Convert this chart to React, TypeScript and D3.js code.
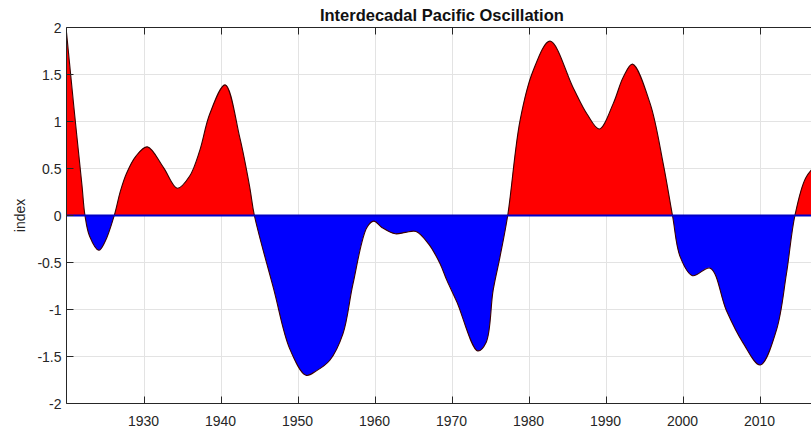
import React, { useEffect, useRef } from 'react';
import * as d3 from 'd3';

// smoothed IPO index
const years = [
  1920, 1921, 1922, 1922.4, 1923, 1924.2, 1925, 1926.2, 1927, 1927.8, 1929, 1930.5,
  1932.6, 1934.4, 1936, 1937.3, 1938.6, 1940.6, 1942.5, 1943.8, 1944.4, 1946.9,
  1949, 1951.1, 1952.5, 1954.2, 1955.9, 1957.2, 1959, 1959.9, 1961, 1962.7,
  1964, 1965.4, 1967, 1968.5, 1969.4, 1970.7, 1973.4, 1974.5, 1975.4, 1976.3, 1977.3,
  1978.9, 1980.6, 1982.8, 1985.8, 1987.6, 1989.2, 1991, 1992.3, 1993.5,
  1995.8, 1997.5, 1998.7, 1999.7, 2001.3, 2003.6, 2005.7, 2007.9, 2010.1, 2012.2,
  2013.5, 2014.6, 2016, 2017.5,
];
const ipo = [
  1.95, 1.12, 0.33, 0, -0.22, -0.37, -0.28, 0, 0.26, 0.45, 0.63, 0.73,
  0.51, 0.29, 0.42, 0.69, 1.08, 1.39, 0.83, 0.3, 0, -0.78,
  -1.42, -1.7, -1.65, -1.54, -1.26, -0.73, -0.13, -0.06, -0.13, -0.195,
  -0.18, -0.17, -0.3, -0.51, -0.69, -0.92, -1.44, -1.35, -0.8, -0.44, 0,
  1.01, 1.54, 1.855, 1.36, 1.08, 0.92, 1.19, 1.47, 1.61,
  1.19, 0.55, 0, -0.44, -0.64, -0.56, -1.01, -1.36, -1.59, -1.22,
  -0.62, 0, 0.4, 0.55,
];
const xTicks = [1930, 1940, 1950, 1960, 1970, 1980, 1990, 2000, 2010];
const yTicks = [-2, -1.5, -1, -0.5, 0, 0.5, 1, 1.5, 2];

const App: React.FC = () => {
  const svgRef = useRef<SVGSVGElement>(null);

  useEffect(() => {
    if (!svgRef.current) return;
    const svg = d3.select(svgRef.current);
    svg.selectAll('*').remove();

    const left = 66.5, top = 27.5, bottom = 403.5;
    const x = d3.scaleLinear().domain([1920, 2017.5]).range([left, left + 97.5 * 7.7]);
    const y = d3.scaleLinear().domain([-2, 2]).range([bottom, top]);
    const right = x(2017.5);
    const axisCol = '#262626';
    const font = 'Liberation Sans, Arial, sans-serif';

    const data = years.map((yr, i) => [yr, ipo[i]] as [number, number]);

    // grid
    const grid = svg.append('g').attr('stroke', '#e3e3e3').attr('stroke-width', 1);
    xTicks.forEach(t => grid.append('line').attr('x1', Math.round(x(t)) + 0.5).attr('x2', Math.round(x(t)) + 0.5).attr('y1', top).attr('y2', bottom));
    yTicks.forEach(t => grid.append('line').attr('x1', left).attr('x2', right).attr('y1', y(t)).attr('y2', y(t)));

    const defs = svg.append('defs');
    defs.append('clipPath').attr('id', 'pos').append('rect')
      .attr('x', left).attr('y', top).attr('width', right - left).attr('height', y(0) - top);
    defs.append('clipPath').attr('id', 'neg').append('rect')
      .attr('x', left).attr('y', y(0)).attr('width', right - left).attr('height', bottom - y(0));

    const curve = d3.curveCatmullRom.alpha(0.5);
    const area = d3.area<[number, number]>()
      .x(d => x(d[0])).y0(y(0)).y1(d => y(d[1]))
      .curve(curve);
    const line = d3.line<[number, number]>()
      .x(d => x(d[0])).y(d => y(d[1]))
      .curve(curve);

    svg.append('path').datum(data).attr('d', area).attr('fill', '#ff0000').attr('clip-path', 'url(#pos)');
    svg.append('path').datum(data).attr('d', area).attr('fill', '#0000ff').attr('clip-path', 'url(#neg)');
    svg.append('path').datum(data).attr('d', line).attr('fill', 'none')
      .attr('stroke', '#3a0000').attr('stroke-width', 1.1);

    // zero line
    svg.append('line').attr('x1', left).attr('x2', right).attr('y1', y(0)).attr('y2', y(0))
      .attr('stroke', '#0000c8').attr('stroke-width', 2);

    // axes box
    const ax = svg.append('g').attr('stroke', axisCol).attr('stroke-width', 1).attr('fill', 'none');
    ax.append('line').attr('x1', left).attr('x2', right).attr('y1', top).attr('y2', top);
    ax.append('line').attr('x1', left).attr('x2', right).attr('y1', bottom).attr('y2', bottom);
    ax.append('line').attr('x1', left).attr('x2', left).attr('y1', top).attr('y2', bottom);
    xTicks.forEach(t => {
      const px = Math.round(x(t)) + 0.5;
      ax.append('line').attr('x1', px).attr('x2', px).attr('y1', bottom).attr('y2', bottom - 7);
      ax.append('line').attr('x1', px).attr('x2', px).attr('y1', top).attr('y2', top + 7);
    });
    yTicks.forEach(t => {
      ax.append('line').attr('x1', left).attr('x2', left + 7).attr('y1', y(t)).attr('y2', y(t));
    });

    const labels = svg.append('g').attr('fill', axisCol).style('font-family', font).style('font-size', '14px');
    xTicks.forEach(t => labels.append('text').attr('x', x(t)).attr('y', bottom + 22.5)
      .attr('text-anchor', 'middle').text(String(t)));
    yTicks.forEach(t => labels.append('text').attr('x', left - 5).attr('y', y(t) + 5)
      .attr('text-anchor', 'end').text(String(t)));

    svg.append('text').attr('transform', `translate(25,${y(0)}) rotate(-90)`)
      .attr('text-anchor', 'middle').attr('fill', axisCol)
      .style('font-family', font).style('font-size', '14px').text('index');

    svg.append('text').attr('x', (left + right) / 2).attr('y', 21)
      .attr('text-anchor', 'middle').attr('fill', '#111')
      .style('font-family', font).style('font-size', '16.5px').style('font-weight', 'bold')
      .text('Interdecadal Pacific Oscillation');
  }, []);

  return (
    <div style={{ position: 'fixed', left: 0, top: 0, width: 811, height: 432, overflow: 'hidden', background: '#fff' }}>
      <svg ref={svgRef} width={811} height={432} style={{ display: 'block' }} />
    </div>
  );
};

export default App;
